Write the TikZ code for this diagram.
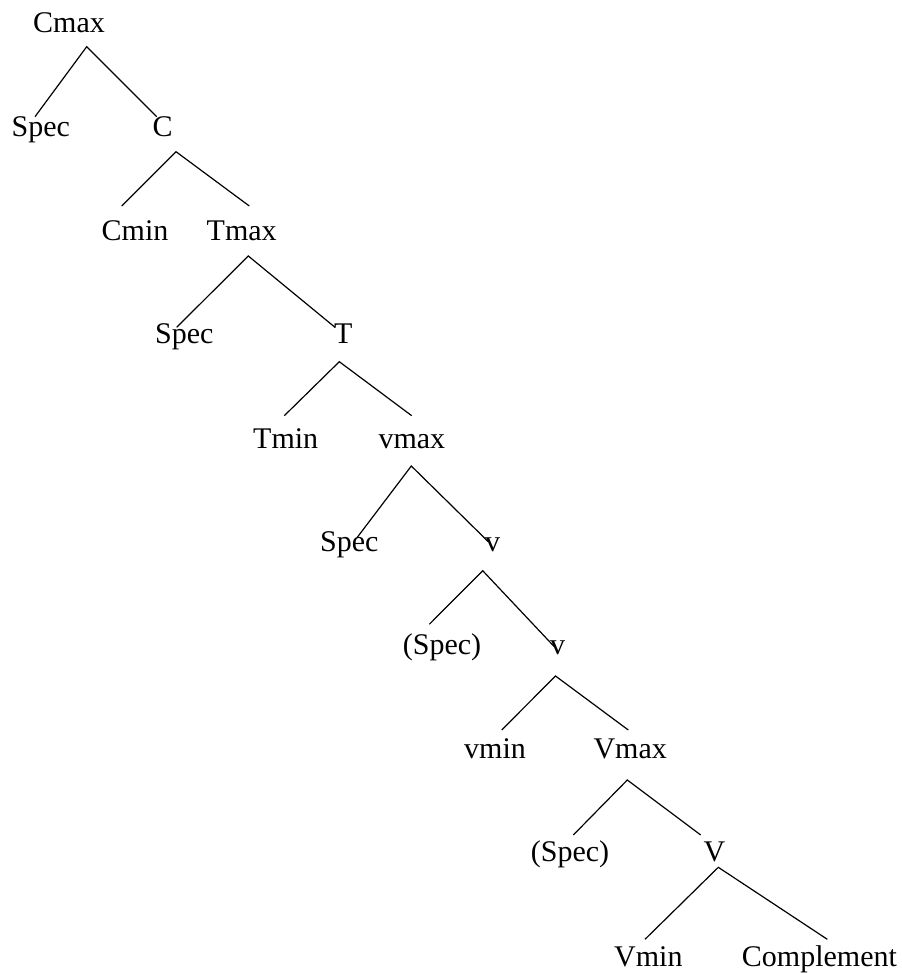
\documentclass[tikz,border=0pt]{standalone}
\usepackage{fontspec}
\setmainfont{Liberation Serif}
\begin{document}
\begin{tikzpicture}[x=1pt,y=-1pt,
  lbl/.style={anchor=base west,inner sep=0pt,font=\fontsize{30}{36}\selectfont},
  branch/.style={line width=1.2pt,black}]
\useasboundingbox (0,0) rectangle (901,973);
% labels
\node[lbl] (cmax) at (33,33) {Cmax};
\node[lbl] (spec1) at (11.5,136.7) {Spec};
\node[lbl] (cbar) at (152.5,136.7) {C};
\node[lbl] (cmin) at (101.5,240.7) {Cmin};
\node[lbl] (tmax) at (206.5,240.7) {Tmax};
\node[lbl] (spec2) at (155,343.3) {Spec};
\node[lbl] (tbar) at (334,343.3) {T};
\node[lbl] (tmin) at (253,448.3) {Tmin};
\node[lbl] (vmaxs) at (378.3,448.3) {vmax};
\node[lbl] (spec3) at (320,551.7) {Spec};
\node[lbl] (vbar1) at (485,551.7) {v};
\node[lbl] (spec4) at (402.7,654) {(Spec)};
\node[lbl] (vbar2) at (550,654) {v};
\node[lbl] (vmin) at (464,758.3) {vmin};
\node[lbl] (Vmax) at (593.3,758.3) {Vmax};
\node[lbl] (spec5) at (530.7,861.7) {(Spec)};
\node[lbl] (Vbar) at (703.3,861.7) {V};
\node[lbl] (Vmin) at (614,966.7) {Vmin};
\node[lbl] (compl) at (741.7,966.7) {Complement};
% branch points
\coordinate (a1) at (86.7,46.7);   \coordinate (l1) at (35,116.7);   \coordinate (r1) at (156.7,116.7);
\coordinate (a2) at (176,151.7);   \coordinate (l2) at (121.7,206);  \coordinate (r2) at (249.3,206);
\coordinate (a3) at (248.3,256);   \coordinate (l3) at (176.7,327.3);\coordinate (r3) at (335,327.3);
\coordinate (a4) at (339.3,361.7); \coordinate (l4) at (284.3,415.7);\coordinate (r4) at (411.7,415.7);
\coordinate (a5) at (411.3,466);   \coordinate (l5) at (357.3,537.3);\coordinate (r5) at (488.3,541.7);
\coordinate (a6) at (482.7,570.7); \coordinate (l6) at (429.3,624.3);\coordinate (r6) at (554.3,646.7);
\coordinate (a7) at (555.5,676);   \coordinate (l7) at (501.7,730);  \coordinate (r7) at (628.3,730);
\coordinate (a8) at (627.3,780);   \coordinate (l8) at (573.3,835);  \coordinate (r8) at (700.7,835);
\coordinate (a9) at (718.3,867.3); \coordinate (l9) at (645,939.3);  \coordinate (r9) at (827.3,939.3);
\foreach \i in {1,...,9}{
  \draw[branch] (l\i) -- (a\i) -- (r\i);
}
\end{tikzpicture}
\end{document}
